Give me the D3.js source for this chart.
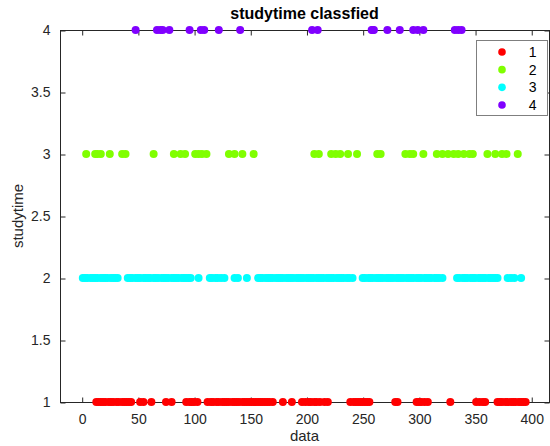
<!DOCTYPE html>
<html>
<head>
<meta charset="utf-8">
<script src="https://cdn.jsdelivr.net/npm/d3@7"></script>
<style>
  html, body { margin: 0; padding: 0; background: #fff; }
  svg { display: block; font-family: "Liberation Sans", Arial, Helvetica, sans-serif; }
</style>
</head>
<body>
<svg id="chart" width="550" height="446"></svg>
<script>
// Record index of each student, grouped by cluster label
const clusterLabels = ["1", "2", "3", "4"];
const clusterColors = ["#ff0000", "#80ff00", "#00ffff", "#8000ff"];
// Study time value shared by the members of each cluster
const clusterStudytime = [1, 3, 2, 4];

const cluster1 = [13, 15, 17, 19, 21, 24, 26, 28, 31, 33, 36, 38, 40, 42, 44, 52, 55, 62, 75, 80,
  93, 96, 98, 100, 103, 112, 115, 117, 120, 122, 125, 127, 129, 131, 134, 136, 138, 140, 143, 145,
  147, 149, 151, 153, 155, 157, 159, 161, 163, 165, 167, 170, 179, 187, 196, 199, 202, 204, 207, 209,
  212, 216, 219, 239, 242, 244, 246, 248, 250, 252, 254, 256, 279, 281, 298, 300, 302, 305, 308, 328,
  351, 354, 357, 359, 370, 372, 374, 377, 379, 382, 384, 386, 389, 391, 393, 395];

const cluster2 = [4, 12, 14, 17, 25, 36, 39, 64, 82, 88, 92, 101, 104, 107, 111, 131, 136, 143, 153,
  207, 211, 222, 226, 230, 237, 245, 263, 266, 288, 292, 295, 304, 316, 321, 326, 331, 335, 340, 345,
  348, 361, 368, 374, 378, 388];

const cluster3 = [1, 3, 5, 8, 10, 12, 14, 17, 19, 21, 23, 26, 28, 30, 32,
  41, 43, 45, 48, 50, 52, 55, 57, 59, 61, 64, 66, 68, 71, 73, 75, 77, 80, 82, 84, 86, 89, 91, 93, 95, 97,
  104, 114, 116, 119, 121, 124, 127, 136, 139, 147,
  157, 159, 161, 164, 166, 168, 170, 173, 175, 177, 179, 182, 184, 186, 188, 191, 193, 195, 197, 200,
  202, 204, 206, 209, 211, 213, 215, 218, 220, 222, 224, 227, 229, 231, 233, 236, 238, 241,
  250, 252, 255, 257, 259, 262, 264, 266, 268, 271, 273, 275, 277, 280, 282, 284, 286, 289, 291, 293,
  295, 298, 300, 302, 305, 307, 309, 311, 314, 316, 318, 321,
  334, 336, 339, 341, 343, 346, 348, 350, 353, 355, 357, 359, 362, 364, 366, 368, 370,
  379, 382, 385, 391];

const cluster4 = [48, 67, 70, 72, 78, 96, 106, 109, 122, 141, 205, 210, 258, 259, 260, 272, 283,
  295, 299, 304, 332, 335, 338];

const xTicks = [0, 50, 100, 150, 200, 250, 300, 350, 400];
const yTicks = [1, 1.5, 2, 2.5, 3, 3.5, 4];

const series = [cluster1, cluster2, cluster3, cluster4].map((idx, i) => ({
  label: clusterLabels[i],
  color: clusterColors[i],
  points: idx.map(d => ({ x: d, y: clusterStudytime[i] }))
}));

const svg = d3.select("#chart");
const plot = { left: 60, right: 549, top: 30, bottom: 402 };

const x = d3.scaleLinear().domain([-19.3, 415.8]).range([plot.left, plot.right]);
const y = d3.scaleLinear().domain([1, 4]).range([plot.bottom, plot.top]);

const axisColor = "#262626";
const tickLen = 5;
const fontSize = "14px";

// Axis box
svg.append("rect")
  .attr("x", plot.left + 0.5).attr("y", plot.top + 0.5)
  .attr("width", plot.right - plot.left).attr("height", plot.bottom - plot.top)
  .attr("fill", "#fff").attr("stroke", axisColor).attr("stroke-width", 1);

function styleAxis(g, showLabels) {
  g.select(".domain").remove();
  g.selectAll(".tick line").attr("stroke", axisColor);
  g.selectAll(".tick text")
    .attr("fill", axisColor)
    .style("font-size", fontSize)
    .style("font-family", "'Liberation Sans', Arial, sans-serif")
    .attr("opacity", showLabels ? 1 : 0);
}

// Bottom and top axes (ticks point inward)
svg.append("g")
  .attr("transform", `translate(0.5,${plot.bottom + 0.5})`)
  .call(d3.axisBottom(x).tickValues(xTicks).tickSizeInner(-tickLen).tickSizeOuter(0).tickPadding(12))
  .call(g => styleAxis(g, true));
svg.append("g")
  .attr("transform", `translate(0.5,${plot.top + 0.5})`)
  .call(d3.axisTop(x).tickValues(xTicks).tickSizeInner(-tickLen).tickSizeOuter(0))
  .call(g => styleAxis(g, false));

// Left and right axes
svg.append("g")
  .attr("transform", `translate(${plot.left + 0.5},0.5)`)
  .call(d3.axisLeft(y).tickValues(yTicks).tickFormat(d3.format("")).tickSizeInner(-tickLen).tickSizeOuter(0).tickPadding(10))
  .call(g => styleAxis(g, true));
svg.append("g")
  .attr("transform", `translate(${plot.right + 0.5},0.5)`)
  .call(d3.axisRight(y).tickValues(yTicks).tickSizeInner(-tickLen).tickSizeOuter(0))
  .call(g => styleAxis(g, false));

// Scatter points, drawn over the axis lines
series.forEach(s => {
  svg.append("g")
    .selectAll("circle")
    .data(s.points)
    .join("circle")
    .attr("cx", d => x(d.x))
    .attr("cy", d => y(d.y))
    .attr("r", 4)
    .attr("fill", s.color);
});

// Title and axis labels
svg.append("text")
  .attr("x", (plot.left + plot.right) / 2).attr("y", 19)
  .attr("text-anchor", "middle")
  .attr("font-weight", "bold").style("font-size", "16px")
  .attr("fill", "#000")
  .text("studytime classfied");

svg.append("text")
  .attr("x", (plot.left + plot.right) / 2).attr("y", 441)
  .attr("text-anchor", "middle")
  .style("font-size", "15px").attr("fill", axisColor)
  .text("data");

svg.append("text")
  .attr("transform", `translate(23,${(plot.top + plot.bottom) / 2}) rotate(-90)`)
  .attr("text-anchor", "middle")
  .style("font-size", "15px").attr("fill", axisColor)
  .text("studytime");

// Legend
const legend = svg.append("g").attr("transform", "translate(476.5,40.5)");
legend.append("rect")
  .attr("width", 71).attr("height", 75)
  .attr("fill", "#fff").attr("stroke", "#7f7f7f").attr("stroke-width", 1);
const rowY = d3.scalePoint().domain(clusterLabels).range([11.5, 64.5]);
series.forEach(s => {
  const row = legend.append("g").attr("transform", `translate(0,${rowY(s.label)})`);
  row.append("circle").attr("cx", 25.5).attr("cy", 0).attr("r", 3.8).attr("fill", s.color);
  row.append("text").attr("x", 60).attr("y", 5)
    .attr("text-anchor", "end")
    .style("font-size", fontSize).attr("fill", "#000")
    .text(s.label);
});
</script>
</body>
</html>
